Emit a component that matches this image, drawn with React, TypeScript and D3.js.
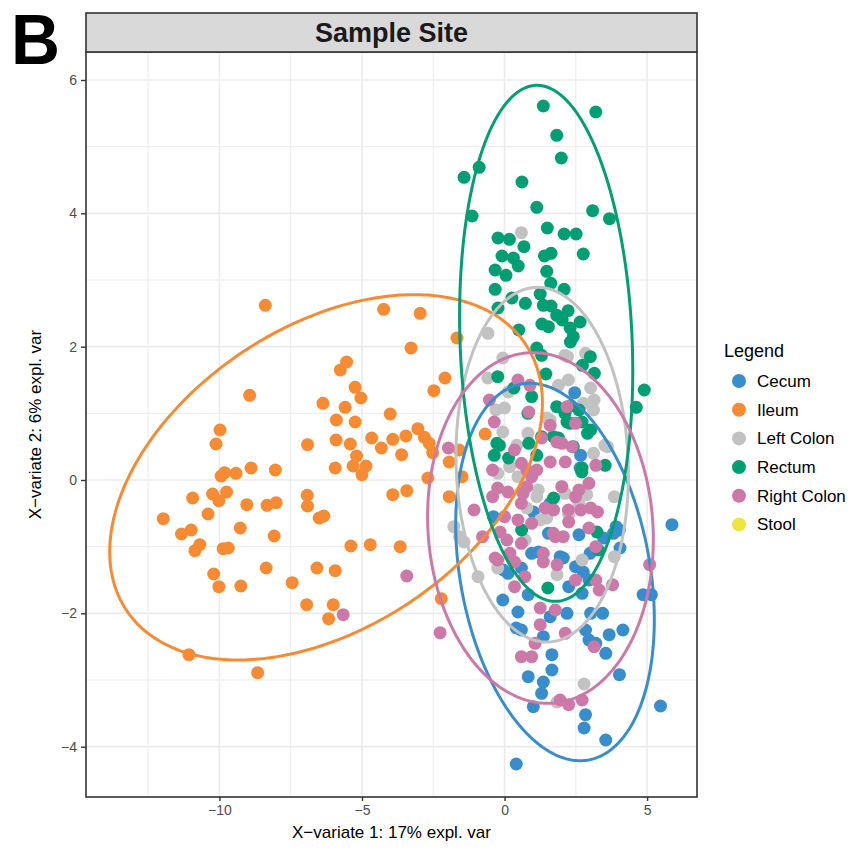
import React, { useEffect, useRef } from 'react';
import * as d3 from 'd3';

const groups = ['Cecum', 'Ileum', 'Left Colon', 'Rectum', 'Right Colon', 'Stool'];
const groupColors = ['#388ECC', '#F68B33', '#C2C2C2', '#009E73', '#CC79A7', '#F0E442'];

const xTicks = [-10, -5, 0, 5];
const yTicks = [-4, -2, 0, 2, 4, 6];
const xMinorTicks = [-12.5, -7.5, -2.5, 2.5];
const yMinorTicks = [-3, -1, 1, 3, 5];

// [X-variate 1, X-variate 2] per sample
const cecum = [
  [2.46, 1.31], [2.67, 0.37], [2.65, 0.18], [1.01, -0.48], [1.6, -0.35], [5.87, -0.67], [3.91, -0.7],
  [4.03, -0.75], [2.61, -0.82], [1.54, -0.8], [1.95, -1.15], [2.49, -1.3], [0.95, -1.1], [0.12, -1.4],
  [0.59, -1.32], [-0.06, -1.8], [0.47, -1.98], [0.83, -1.72], [2.25, -1.6], [2.72, -1.7], [2.96, -1.5],
  [1.6, -2.05], [2.19, -2.0], [3.02, -2.0], [3.44, -2.0], [2.84, -2.25], [2.96, -2.4], [3.2, -2.45],
  [3.67, -2.32], [4.15, -2.25], [3.55, -2.6], [1.66, -2.62], [0.41, -2.22], [0.59, -2.25], [1.36, -2.35],
  [1.66, -2.85], [0.83, -2.95], [1.36, -3.03], [1.3, -3.2], [4.03, -2.92], [1.01, -3.4], [2.84, -3.52],
  [2.79, -3.72], [3.55, -3.9], [5.47, -3.39], [0.41, -4.26], [4.86, -1.72], [5.15, -1.72], [-0.39, -0.55],
  [1.19, -1.08], [2.06, -1.17], [3.47, -0.87], [4.05, -1.02], [3.82, -0.8], [-0.04, -1.35], [2.76, -1.38],
  [3.0, -1.1],
];

const ileum = [
  [-8.39, 2.62], [-4.24, 2.56], [-2.96, 2.5], [-1.67, 2.13], [-3.28, 1.98], [-5.54, 1.77], [-5.76, 1.65],
  [-8.94, 1.27], [-5.24, 1.39], [-5.04, 1.23], [-2.09, 1.53], [-2.48, 1.34], [-6.37, 1.15], [-5.59, 1.09],
  [-4.01, 0.99], [-5.9, 0.9], [-5.24, 0.87], [-9.98, 0.75], [-10.12, 0.54], [-6.91, 0.53], [-5.91, 0.6],
  [-5.41, 0.54], [-4.66, 0.63], [-4.32, 0.48], [-3.92, 0.61], [-3.61, 0.38], [-3.46, 0.66], [-3.04, 0.77],
  [-2.81, 0.64], [-2.64, 0.55], [-2.52, 0.41], [-1.94, 0.27], [-1.59, 0.45], [-5.19, 0.36], [-5.31, 0.21],
  [-4.86, 0.21], [-5.0, 0.08], [-5.94, 0.18], [-8.89, 0.18], [-8.04, 0.15], [-9.94, 0.06], [-9.82, 0.11],
  [-9.42, 0.1], [-2.69, 0.03], [-1.49, 0.05], [-3.92, -0.22], [-3.43, -0.16], [-1.94, -0.25], [-10.94, -0.27],
  [-10.24, -0.21], [-9.75, -0.18], [-10.02, -0.31], [-6.92, -0.23], [-6.91, -0.39], [-9.04, -0.37],
  [-8.33, -0.38], [-8.01, -0.34], [-10.4, -0.51], [-11.97, -0.58], [-6.5, -0.57], [-6.34, -0.54],
  [-9.27, -0.72], [-11.33, -0.81], [-10.99, -0.75], [-10.69, -0.97], [-10.86, -1.06], [-9.87, -1.03],
  [-9.69, -1.02], [-8.08, -0.84], [-5.39, -0.99], [-4.71, -0.97], [-3.66, -1.0], [-10.2, -1.41],
  [-10.02, -1.6], [-9.25, -1.59], [-8.36, -1.32], [-7.45, -1.54], [-6.58, -1.32], [-5.94, -1.36],
  [-6.94, -1.87], [-6.01, -1.87], [-6.17, -2.08], [-2.22, -1.78], [-11.07, -2.62], [-8.66, -2.89],
  [-0.68, 0.69],
];

const leftColon = [
  [0.59, 3.71], [-0.58, 2.2], [-0.06, 1.83], [2.21, 1.85], [2.84, 1.9], [-0.59, 1.53], [1.89, 1.42],
  [3.02, 1.38], [0.0, 1.08], [-0.3, 1.05], [0.82, 0.7], [-0.06, 0.72], [3.61, 0.5], [3.14, 1.2],
  [1.6, 0.9], [0.18, 0.2], [0.47, 0.05], [1.18, -0.15], [3.85, -0.25], [2.61, -0.35], [2.01, -0.1],
  [1.25, -0.6], [-1.78, -0.7], [-0.24, 0.1], [-1.42, -0.93], [-0.93, -1.45], [-0.24, -1.32], [1.84, -1.42],
  [2.72, -1.2], [3.85, -1.15], [2.79, -3.06], [1.84, -3.33], [1.48, -0.57], [2.25, -0.52], [0.13, 1.32],
  [2.24, 1.5], [2.76, 1.15], [3.12, 1.05], [1.48, 0.93], [0.43, 0.52], [3.12, 0.4], [1.13, -0.25],
  [2.12, -0.2], [2.88, -0.22], [0.78, -0.42], [0.72, -0.9], [2.12, 1.87], [3.52, 0.52], [-1.58, -0.85],
];

const rectum = [
  [1.36, 5.61], [3.2, 5.52], [1.83, 5.17], [1.99, 4.83], [-0.89, 4.69], [-1.42, 4.54], [0.61, 4.47],
  [-1.14, 3.96], [1.13, 4.09], [3.09, 4.04], [3.68, 3.92], [1.5, 3.78], [-0.23, 3.63], [0.17, 3.61],
  [0.68, 3.5], [2.09, 3.69], [2.51, 3.69], [2.76, 3.39], [-0.09, 3.36], [0.31, 3.33], [0.48, 3.21],
  [1.4, 3.36], [1.63, 3.4], [-0.33, 3.15], [0.05, 3.07], [1.48, 3.13], [-0.33, 2.86], [1.62, 2.95],
  [2.09, 2.86], [0.26, 2.73], [0.73, 2.65], [1.25, 2.79], [1.36, 2.62], [-0.23, 2.58], [1.63, 2.61],
  [1.83, 2.47], [2.23, 2.54], [2.02, 2.4], [2.65, 2.37], [1.31, 2.34], [1.54, 2.3], [0.5, 2.25],
  [2.3, 2.28], [2.41, 2.15], [2.31, 2.07], [3.01, 1.85], [2.73, 1.72], [3.15, 1.6], [4.9, 1.35],
  [4.62, 1.09], [2.91, 0.7], [1.13, 1.98], [1.3, 1.87], [1.45, 1.59], [-0.24, 1.55], [0.33, 1.38],
  [0.95, 1.25], [0.82, 1.0], [2.25, 1.1], [2.61, 1.05], [2.72, 0.87], [3.02, 0.75], [2.19, 0.87],
  [1.3, 0.65], [1.89, 0.63], [-0.18, 0.52], [-0.36, 0.37], [0.14, 0.33], [0.85, 0.55], [1.13, 0.37],
  [2.72, 0.18], [3.53, 0.22], [1.72, -0.27], [1.83, 1.1], [2.3, 0.85], [2.12, 1.0], [-0.27, 0.55],
  [1.71, 0.65], [2.41, 0.5], [2.71, 0.12], [0.6, -0.75], [3.24, -0.78], [3.29, -1.05], [1.52, -1.62],
];

const rightColon = [
  [-1.97, 0.48], [-3.43, -1.44], [-5.66, -2.02], [-2.26, -2.29], [0.47, 1.5], [0.89, 1.42], [-0.53, 1.2],
  [0.85, 1.02], [2.19, 1.1], [2.49, 0.85], [1.6, 0.82], [-0.36, 0.87], [1.3, 0.63], [2.01, 0.55],
  [2.37, 0.5], [0.35, 0.45], [0.59, 0.25], [1.13, 0.15], [1.6, 0.27], [2.13, 0.27], [3.2, 0.22],
  [-0.42, 0.15], [-0.24, -0.12], [0.12, -0.18], [0.95, 0.05], [0.65, -0.2], [2.01, -0.1], [2.61, -0.15],
  [2.96, -0.05], [2.49, -0.25], [0.59, -0.35], [1.72, -0.45], [2.67, -0.45], [3.02, -0.42], [3.26, -0.48],
  [-1.07, -0.45], [0.0, -0.55], [0.47, -0.6], [0.95, -0.65], [2.25, -0.63], [-0.42, -0.25], [5.09, -1.27],
  [-0.24, -1.2], [0.35, -1.6], [1.25, -1.92], [1.78, -1.95], [1.25, -2.17], [2.13, -2.3], [1.07, -2.45],
  [0.59, -2.65], [0.95, -2.65], [3.14, -2.5], [1.95, -3.3], [2.25, -3.37], [2.72, -3.3], [-0.77, -0.85],
  [0.59, -0.95], [1.78, -0.85], [1.84, -1.27], [2.49, -1.5], [3.2, -1.5], [3.79, -1.57], [3.2, -1.0],
  [1.36, -1.1], [0.71, -1.45], [1.36, -1.23], [0.35, -1.23], [3.32, -1.65], [2.96, -0.72], [1.83, 0.57],
  [0.78, 0.15], [0.78, -0.1], [1.42, -0.42], [2.24, -0.45], [-0.16, -0.78], [0.08, -0.9], [1.71, -0.8],
  [2.06, -0.85], [-0.33, -1.17], [0.19, -1.1],
];

const stool: number[][] = [];

const samples = [cecum, ileum, leftColon, rectum, rightColon, stool];

// confidence ellipse per group: [centre x, centre y, top offset x, top offset y, half width]
const ellipseCecum = [1.77, -1.38, -0.88, 2.83, 3.37];
const ellipseIleum = [-6.26, 0.04, 3.09, 2.74, 6.93];
const ellipseLeftColon = [1.32, 0.23, -0.16, 2.66, 3.02];
const ellipseRectum = [1.46, 2.05, -0.32, 3.87, 3.02];
const ellipseRightColon = [1.26, -0.72, -0.26, 2.63, 3.95];

const ellipses = [ellipseCecum, ellipseIleum, ellipseLeftColon, ellipseRectum, ellipseRightColon];

const App = () => {
  const svgRef = useRef<SVGSVGElement>(null);

  useEffect(() => {
    const svg = d3.select(svgRef.current);
    const width = 860;
    const height = 850;
    const left = 86;
    const right = 697;
    const top = 52;
    const bottom = 797;
    const font = '"Liberation Sans", Arial, Helvetica, sans-serif';

    svg.selectAll('*').remove();
    svg.attr('width', width).attr('height', height);

    const x = d3.scaleLinear().domain([-14.68, 6.75]).range([left, right]);
    const y = d3.scaleLinear().domain([-4.755, 6.42]).range([bottom, top]);

    svg.append('rect').attr('width', width).attr('height', height).attr('fill', '#fff');

    // grid
    const grid = svg.append('g');
    grid.selectAll('.xminor').data(xMinorTicks).join('line')
      .attr('x1', (d) => x(d)).attr('x2', (d) => x(d)).attr('y1', top).attr('y2', bottom)
      .attr('stroke', '#EBEBEB').attr('stroke-width', 1);
    grid.selectAll('.yminor').data(yMinorTicks).join('line')
      .attr('y1', (d) => y(d)).attr('y2', (d) => y(d)).attr('x1', left).attr('x2', right)
      .attr('stroke', '#EBEBEB').attr('stroke-width', 1);
    grid.selectAll('.xmajor').data(xTicks).join('line')
      .attr('x1', (d) => x(d)).attr('x2', (d) => x(d)).attr('y1', top).attr('y2', bottom)
      .attr('stroke', '#EBEBEB').attr('stroke-width', 1.6);
    grid.selectAll('.ymajor').data(yTicks).join('line')
      .attr('y1', (d) => y(d)).attr('y2', (d) => y(d)).attr('x1', left).attr('x2', right)
      .attr('stroke', '#EBEBEB').attr('stroke-width', 1.6);

    // points
    samples.forEach((pts, gi) => {
      svg.append('g').selectAll('circle').data(pts).join('circle')
        .attr('cx', (d) => x(d[0]))
        .attr('cy', (d) => y(d[1]))
        .attr('r', 6.5)
        .attr('fill', groupColors[gi]);
    });

    // ellipses
    const ts = d3.range(0, 361).map((i) => (i * Math.PI * 2) / 360);
    const line = d3.line<number>();
    ellipses.forEach((e, gi) => {
      const [cx, cy, dx, dy, h] = e;
      const path = line(ts.map((t) => [
        x(cx + dx * Math.cos(t) + h * Math.sin(t)),
        y(cy + dy * Math.cos(t)),
      ]) as any);
      svg.append('path').attr('d', path).attr('fill', 'none')
        .attr('stroke', groupColors[gi]).attr('stroke-width', 3);
    });

    // panel border
    svg.append('rect').attr('x', left).attr('y', top).attr('width', right - left).attr('height', bottom - top)
      .attr('fill', 'none').attr('stroke', '#333').attr('stroke-width', 1.6);

    // strip
    svg.append('rect').attr('x', left).attr('y', 13).attr('width', right - left).attr('height', top - 13)
      .attr('fill', '#D9D9D9').attr('stroke', '#333').attr('stroke-width', 1.6);
    svg.append('text').attr('x', (left + right) / 2).attr('y', 41.5).attr('text-anchor', 'middle')
      .attr('font-family', font).attr('font-weight', 'bold').attr('font-size', 27).attr('fill', '#1A1A1A')
      .text('Sample Site');

    // axes
    const xAxis = d3.axisBottom(x).tickValues(xTicks).tickSize(4).tickPadding(4)
      .tickFormat((d) => d3.format('')(d as number).replace('-', '\u2212'));
    const gx = svg.append('g').attr('transform', `translate(0, ${bottom})`).call(xAxis);
    const yAxis = d3.axisLeft(y).tickValues(yTicks).tickSize(5).tickPadding(4)
      .tickFormat((d) => d3.format('')(d as number).replace('-', '\u2212'));
    const gy = svg.append('g').attr('transform', `translate(${left}, 0)`).call(yAxis);
    [gx, gy].forEach((g) => {
      g.select('.domain').remove();
      g.selectAll('line').attr('stroke', '#333').attr('stroke-width', 1.4);
      g.selectAll('text').attr('font-family', font).attr('font-size', 14).attr('fill', '#4D4D4D');
    });

    svg.append('text').attr('x', (left + right) / 2).attr('y', 838).attr('text-anchor', 'middle')
      .attr('font-family', font).attr('font-size', 17).attr('fill', '#000')
      .text('X\u2212variate 1: 17% expl. var');
    svg.append('text').attr('transform', `translate(41, ${(top + bottom) / 2}) rotate(-90)`)
      .attr('text-anchor', 'middle').attr('font-family', font).attr('font-size', 17).attr('fill', '#000')
      .text('X\u2212variate 2: 6% expl. var');

    // legend
    const legend = svg.append('g');
    legend.append('text').attr('x', 724).attr('y', 357).attr('font-family', font).attr('font-size', 18)
      .text('Legend');
    groups.forEach((name, i) => {
      const ly = 381 + i * 28.7;
      legend.append('circle').attr('cx', 739).attr('cy', ly).attr('r', 7).attr('fill', groupColors[i]);
      legend.append('text').attr('x', 757).attr('y', ly + 5.8).attr('font-family', font).attr('font-size', 17)
        .text(name);
    });

    // panel tag
    svg.append('text').attr('x', 11).attr('y', 64).attr('font-family', font).attr('font-weight', 'bold')
      .attr('font-size', 70).attr('textLength', 49).attr('lengthAdjust', 'spacingAndGlyphs').text('B');
  }, []);

  return (
    <div style={{ position: 'absolute', left: 0, top: 0 }}>
      <svg ref={svgRef} style={{ display: 'block' }} />
    </div>
  );
};

export default App;
